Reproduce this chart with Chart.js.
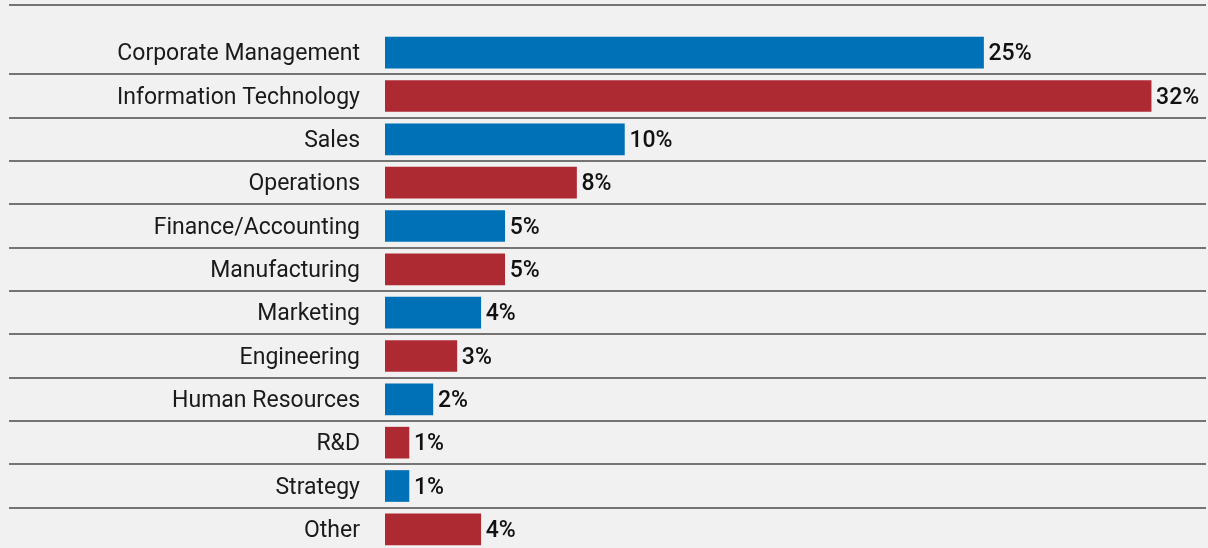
<!DOCTYPE html>
<html>
<head>
<meta charset="utf-8">
<script src="https://cdn.jsdelivr.net/npm/chart.js@4/dist/chart.umd.min.js"></script>
<style>
  html, body { margin: 0; padding: 0; background: #f1f1f1; overflow: hidden; }
  #wrap { width: 1208px; height: 551px; }
</style>
</head>
<body>
<div id="wrap"><canvas id="c" width="1208" height="551"></canvas></div>
<script>
// Share of respondents by function
const categories = [
  'Corporate Management', 'Information Technology', 'Sales', 'Operations',
  'Finance/Accounting', 'Manufacturing', 'Marketing', 'Engineering',
  'Human Resources', 'R&D', 'Strategy', 'Other'
];
const shares = [25, 32, 10, 8, 5, 5, 4, 3, 2, 1, 1, 4];

const BLUE = '#0070b7';
const RED = '#ae2a33';
const barColors = categories.map((_, i) => (i % 2 === 0 ? BLUE : RED));

const FONT = 'Roboto, "Noto Sans", sans-serif';

// Row separators spanning the full width, plus the header rule
const rowRules = {
  id: 'rowRules',
  beforeDatasetsDraw(chart) {
    const { ctx } = chart;
    const y = chart.scales.y;
    ctx.save();
    ctx.strokeStyle = '#747474';
    ctx.lineWidth = 2;
    const xL = 9, xR = 1206;
    ctx.beginPath();
    ctx.moveTo(xL, 5); ctx.lineTo(xR, 5);
    for (let i = 0; i < categories.length - 1; i++) {
      const yy = Math.round((y.getPixelForValue(i) + y.getPixelForValue(i + 1)) / 2);
      ctx.moveTo(xL, yy); ctx.lineTo(xR, yy);
    }
    ctx.stroke();
    ctx.restore();
  }
};

// Value labels at the end of each bar
const valueLabels = {
  id: 'valueLabels',
  afterDatasetsDraw(chart) {
    const { ctx } = chart;
    const meta = chart.getDatasetMeta(0);
    ctx.save();
    ctx.fillStyle = '#111111';
    ctx.font = '500 23px ' + FONT;
    ctx.textAlign = 'left';
    ctx.textBaseline = 'middle';
    meta.data.forEach((bar, i) => {
      ctx.fillText(shares[i] + '%', bar.x + 5, bar.y + 2);
    });
    ctx.restore();
  }
};

new Chart(document.getElementById('c'), {
  type: 'bar',
  data: {
    labels: categories,
    datasets: [{
      data: shares,
      backgroundColor: barColors,
      borderWidth: 0,
      barThickness: 31
    }]
  },
  options: {
    indexAxis: 'y',
    responsive: false,
    animation: false,
    events: [],
    layout: { padding: { top: 31, right: 9, bottom: 0, left: 0 } },
    plugins: { legend: { display: false }, tooltip: { enabled: false } },
    scales: {
      x: { display: false, min: 0, max: 34 },
      y: {
        afterFit(scale) {
          scale.width = 385;
          scale.paddingTop = 0;
          scale.paddingBottom = 0;
        },
        border: { display: false },
        grid: { display: false, drawTicks: false },
        ticks: {
          padding: 25,
          labelOffset: 2,
          color: '#1a1a1a',
          font: { family: FONT, size: 23 }
        }
      }
    }
  },
  plugins: [rowRules, valueLabels]
});
</script>
</body>
</html>
